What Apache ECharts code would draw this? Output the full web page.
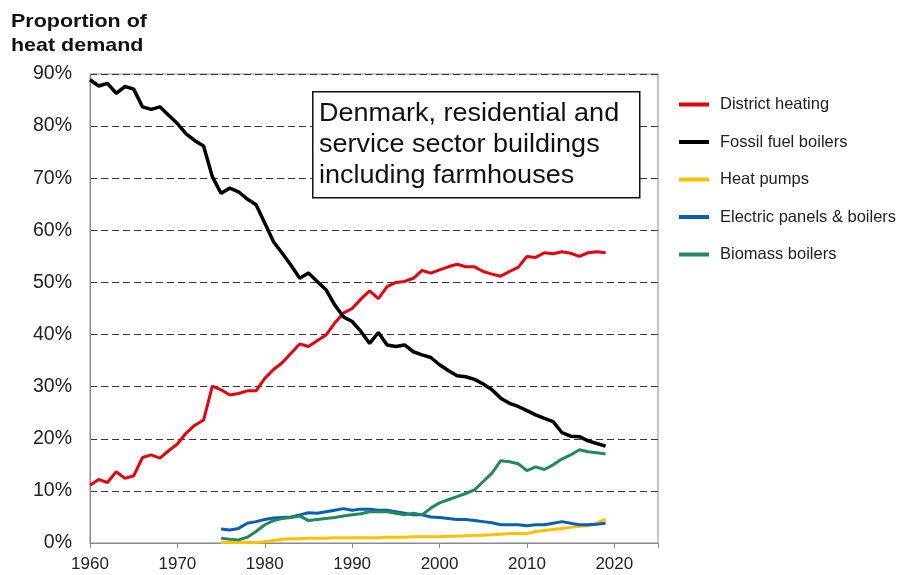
<!DOCTYPE html>
<html>
<head>
<meta charset="utf-8">
<script src="https://cdn.jsdelivr.net/npm/echarts@6/dist/echarts.min.js"></script>
<style>
html,body{margin:0;padding:0;background:#fff;}
#chart{width:907px;height:575px;}
</style>
</head>
<body>
<div id="chart"></div>
<script>
const yearsFrom1960 = [1960,1961,1962,1963,1964,1965,1966,1967,1968,1969,1970,1971,1972,1973,1974,1975,1976,1977,1978,1979,1980,1981,1982,1983,1984,1985,1986,1987,1988,1989,1990,1991,1992,1993,1994,1995,1996,1997,1998,1999,2000,2001,2002,2003,2004,2005,2006,2007,2008,2009,2010,2011,2012,2013,2014,2015,2016,2017,2018,2019];
const yearsFrom1975 = [1975,1976,1977,1978,1979,1980,1981,1982,1983,1984,1985,1986,1987,1988,1989,1990,1991,1992,1993,1994,1995,1996,1997,1998,1999,2000,2001,2002,2003,2004,2005,2006,2007,2008,2009,2010,2011,2012,2013,2014,2015,2016,2017,2018,2019];

const districtHeating = [11.1,12.2,11.6,13.7,12.4,12.9,16.4,16.9,16.3,17.7,19.0,21.1,22.6,23.6,30.1,29.4,28.4,28.7,29.2,29.2,31.6,33.3,34.6,36.4,38.2,37.7,38.8,39.9,42.2,44.1,45.0,46.8,48.4,46.9,49.2,50.0,50.2,50.8,52.3,51.8,52.4,53.0,53.5,53.0,53.0,52.1,51.6,51.2,52.1,52.9,55.0,54.8,55.7,55.5,55.9,55.6,55.0,55.7,55.9,55.7];
const fossilFuelBoilers = [88.9,87.7,88.2,86.3,87.6,87.1,83.7,83.2,83.7,82.1,80.5,78.5,77.2,76.2,70.3,67.1,68.1,67.4,66.0,64.9,61.4,57.8,55.6,53.3,50.8,51.8,50.2,48.6,45.7,43.4,42.5,40.6,38.3,40.4,38.0,37.7,38.0,36.7,36.1,35.6,34.2,33.1,32.1,31.9,31.4,30.5,29.4,27.8,26.8,26.2,25.4,24.6,23.9,23.3,21.2,20.5,20.4,19.6,19.1,18.6];
const heatPumps = [0.1,0.1,0.1,0.1,0.1,0.25,0.5,0.7,0.8,0.8,0.9,0.9,0.9,1.0,1.0,1.0,1.0,1.0,1.0,1.1,1.1,1.1,1.2,1.2,1.2,1.2,1.3,1.3,1.4,1.5,1.5,1.6,1.7,1.8,1.8,1.8,2.2,2.4,2.6,2.8,3.0,3.2,3.3,3.8,4.6];
const electricPanels = [2.7,2.5,2.8,3.8,4.1,4.5,4.8,4.9,5.0,5.4,5.8,5.7,6.0,6.3,6.6,6.3,6.5,6.5,6.3,6.3,6.0,5.7,5.4,5.4,5.0,4.9,4.7,4.5,4.5,4.3,4.1,3.9,3.5,3.5,3.5,3.3,3.5,3.5,3.8,4.1,3.8,3.5,3.5,3.6,3.8];
const biomassBoilers = [0.9,0.7,0.6,1.1,2.2,3.5,4.3,4.7,4.9,5.2,4.3,4.5,4.7,4.9,5.2,5.4,5.6,6.0,6.0,6.0,5.7,5.4,5.7,5.4,6.7,7.7,8.3,8.9,9.5,10.2,11.8,13.4,15.8,15.6,15.2,13.9,14.6,14.1,15.0,16.1,16.9,17.9,17.5,17.3,17.1];

const seriesNames = ['District heating','Fossil fuel boilers','Heat pumps','Electric panels & boilers','Biomass boilers'];
const xTicks = [1960,1970,1980,1990,2000,2010,2020];

function pairs(xs, ys){ return ys.map((v,i)=>[xs[i], v]); }

const font = 'Liberation Sans, Arial, sans-serif';
const chart = echarts.init(document.getElementById('chart'), null, {renderer:'canvas'});

function mkSeries(name, xs, ys, color, width, z){
  return {
    name: name, type:'line', data: pairs(xs, ys), symbol:'none', smooth:false,
    lineStyle:{color:color, width:width}, itemStyle:{color:color}, z:z, animation:false
  };
}

chart.setOption({
  animation:false,
  backgroundColor:'#fff',
  grid:{left:90, top:74, right:249, bottom:32, show:true, borderColor:'#8a8a8a', borderWidth:1, backgroundColor:'transparent'},
  xAxis:{
    type:'value', min:1960, max:2025, interval:10,
    axisLine:{show:true, lineStyle:{color:'#8a8a8a', width:1}},
    axisTick:{show:true, length:5, lineStyle:{color:'#8a8a8a'}},
    axisLabel:{fontFamily:font, fontSize:17, color:'#222', margin:13, formatter:function(v){return xTicks.indexOf(v)>=0 ? String(v) : '';}},
    splitLine:{show:false}
  },
  yAxis:{
    type:'value', min:0, max:90, interval:10,
    axisLine:{show:true, lineStyle:{color:'#8a8a8a', width:1}},
    axisTick:{show:false},
    axisLabel:{fontFamily:font, fontSize:19.5, color:'#222', margin:18, formatter:'{value}%'},
    splitLine:{show:true, lineStyle:{color:'#3a3a3a', type:[7,4], width:1}}
  },
  legend:{
    orient:'vertical', left:679, top:96, padding:0, itemWidth:30, itemHeight:4, itemGap:20.5, icon:'rect',
    data: seriesNames,
    textStyle:{fontFamily:font, fontSize:16.5, color:'#222', padding:[0,0,0,6]},
    selectedMode:false
  },
  series:[
    mkSeries(seriesNames[0], yearsFrom1960, districtHeating, '#e3000f', 3, 3),
    mkSeries(seriesNames[2], yearsFrom1975, heatPumps, '#ffc000', 3, 2),
    mkSeries(seriesNames[3], yearsFrom1975, electricPanels, '#0a5fb4', 3, 2),
    mkSeries(seriesNames[4], yearsFrom1975, biomassBoilers, '#23895a', 3, 3),
    mkSeries(seriesNames[1], yearsFrom1960, fossilFuelBoilers, '#000000', 3.5, 4)
  ],
  graphic:[
    {type:'text', left:11, top:10, z:100, scaleX:1.13,
     style:{text:'Proportion of\nheat demand', fontFamily:font, fontSize:19, fontWeight:'bold', lineHeight:24, fill:'#111'}},
    {type:'rect', left:312, top:91, z:100, shape:{x:0, y:0, width:327, height:106}, style:{fill:'#fff', stroke:'#111', lineWidth:1.5}},
    {type:'text', left:319, top:99, z:101, scaleX:1.08,
     style:{text:'Denmark, residential and\nservice sector buildings\nincluding farmhouses', fontFamily:font, fontSize:25, lineHeight:31, fill:'#111'}}
  ]
});
</script>
</body>
</html>
